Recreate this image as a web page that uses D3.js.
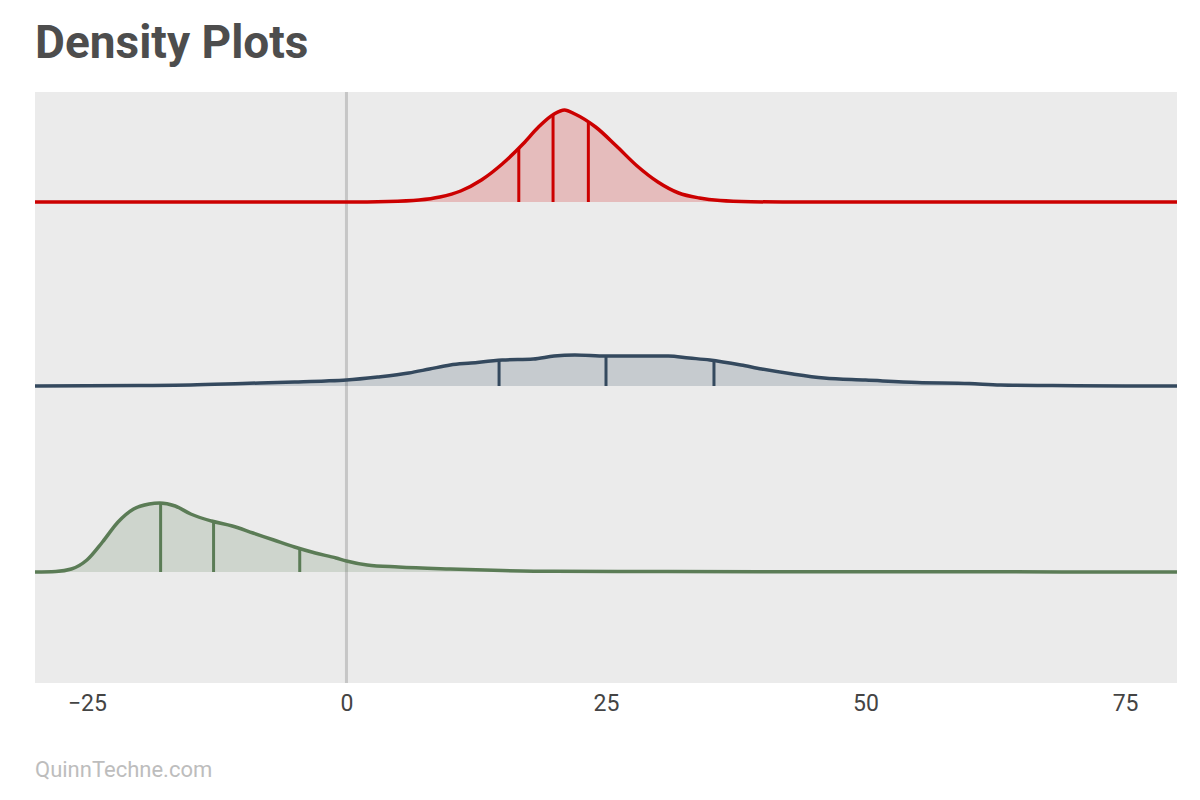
<!DOCTYPE html>
<html>
<head>
<meta charset="utf-8">
<script src="https://cdn.jsdelivr.net/npm/d3@7"></script>
<style>
  body { margin: 0; background: #fff; font-family: Roboto, sans-serif; }
</style>
</head>
<body>
<svg id="chart" width="1200" height="800"></svg>
<script>
// density curves: [x, density height]
const redCurve = [[-30,0],[0,0],[4,0.5],[7,2],[9,5],[11,11],[13,22],[15,38],[17,58],[18.5,75],[20,88],[21,92],[22,88],[24,75],[26,56],[28,36],[30,20],[32,9],[34,4],[36,1.5],[39,0.3],[42,0],[80,0]];
const slateCurve = [[-30,0],[-20,0.5],[-15,1],[-10,2.5],[-5,4],[-2,5],[0,6],[3,9],[6,13],[8,17],[10,21],[12,23],[15,26],[18,27],[20,30],[22,31],[25,30],[28,30],[31,30],[33,28],[35,26],[38,21],[40,17],[43,12],[46,8],[50,6],[55,3.5],[60,2.5],[63,1],[68,0.5],[75,0],[80,0]];
const greenCurve = [[-30,0],[-28,0.5],[-26.5,3],[-25,12],[-23.5,30],[-22,50],[-20.5,63],[-19,68],[-18,69],[-16.5,66],[-15,58],[-13,51],[-11,46],[-9,39],[-7,32],[-5,25],[-3,19],[-1,14],[0,11],[2,7],[5,5],[10,3],[15,1.5],[20,0.7],[30,0.5],[40,0.3],[60,0.2],[80,0]];
const redQuartiles = [16.6, 19.9, 23.3];
const slateQuartiles = [14.7, 25, 35.4];
const greenQuartiles = [-17.9, -12.8, -4.5];
const tickValues = [-25, 0, 25, 50, 75];

const series = [
  { curve: redCurve, quartiles: redQuartiles, color: "#cc0000", base: 202 },
  { curve: slateCurve, quartiles: slateQuartiles, color: "#34495e", base: 386 },
  { curve: greenCurve, quartiles: greenQuartiles, color: "#5b7c56", base: 572 }
];

const svg = d3.select("#chart");
const plotLeft = 35, plotRight = 1177, plotTop = 92, plotBottom = 683;

const x = d3.scaleLinear().domain([-30, 80]).range([plotLeft, plotRight]);
const h = d3.scaleLinear().domain([0, 100]).range([0, 100]);

svg.append("text").attr("x", 35).attr("y", 58)
  .attr("font-size", 46).attr("font-weight", 700).attr("fill", "#4d4d4d")
  .text("Density Plots");

svg.append("rect").attr("x", plotLeft).attr("y", plotTop)
  .attr("width", plotRight - plotLeft).attr("height", plotBottom - plotTop).attr("fill", "#ebebeb");

svg.append("line").attr("x1", x(0)).attr("x2", x(0)).attr("y1", plotTop).attr("y2", plotBottom)
  .attr("stroke", "#c6c6c6").attr("stroke-width", 3);

function interp(curve, v) {
  for (let i = 1; i < curve.length; i++) {
    if (v <= curve[i][0]) {
      const [x0, y0] = curve[i - 1], [x1, y1] = curve[i];
      return y0 + (y1 - y0) * (v - x0) / (x1 - x0);
    }
  }
  return 0;
}

series.forEach(s => {
  const area = d3.area().curve(d3.curveMonotoneX)
    .x(d => x(d[0])).y0(s.base).y1(d => s.base - h(d[1]));
  const line = d3.line().curve(d3.curveMonotoneX)
    .x(d => x(d[0])).y(d => s.base - h(d[1]));
  svg.append("path").datum(s.curve).attr("d", area)
    .attr("fill", s.color).attr("fill-opacity", 0.2);
  svg.selectAll(null).data(s.quartiles).enter().append("line")
    .attr("x1", d => x(d)).attr("x2", d => x(d))
    .attr("y1", s.base).attr("y2", d => s.base - h(interp(s.curve, d)))
    .attr("stroke", s.color).attr("stroke-width", 3);
  svg.append("path").datum(s.curve).attr("d", line)
    .attr("fill", "none").attr("stroke", s.color).attr("stroke-width", 3.5);
});

const axis = svg.append("g").attr("transform", `translate(0,${plotBottom})`)
  .call(d3.axisBottom(x).tickValues(tickValues).tickSize(0).tickPadding(12));
axis.select(".domain").remove();
axis.selectAll("text").attr("font-size", 23).attr("fill", "#444")
  .attr("font-family", "Roboto, sans-serif");

svg.append("text").attr("x", 35).attr("y", 777)
  .attr("font-size", 22).attr("fill", "#bdbdbd").text("QuinnTechne.com");
</script>
</body>
</html>
